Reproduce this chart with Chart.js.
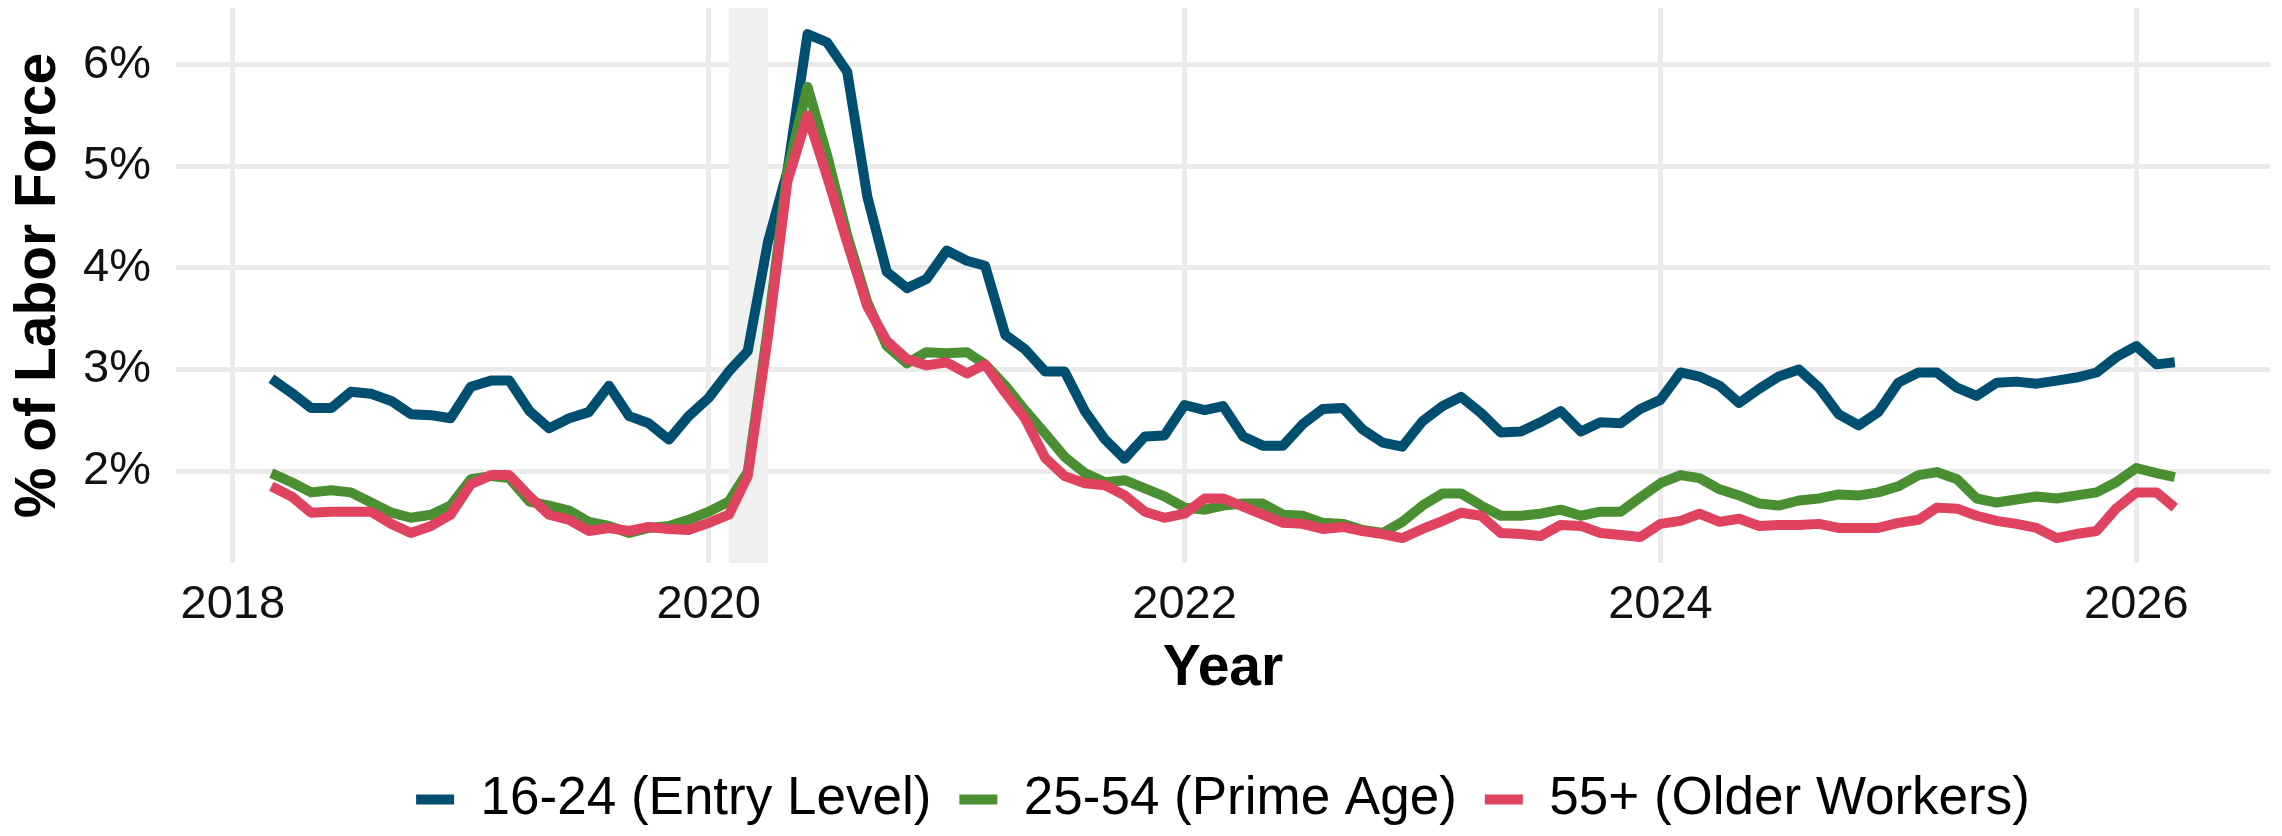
<!DOCTYPE html>
<html>
<head>
<meta charset="utf-8">
<script src="https://cdn.jsdelivr.net/npm/chart.js@4/dist/chart.umd.min.js"></script>
<style>
  html, body { margin: 0; padding: 0; background: #fff; }
  #wrap { width: 2282px; height: 836px; }
</style>
</head>
<body>
<div id="wrap"><canvas id="chart" width="2282" height="836"></canvas></div>
<script>
// --- data (monthly, % of labor force) ---
const months = [
  '2018-03','2018-04','2018-05','2018-06','2018-07','2018-08','2018-09','2018-10','2018-11','2018-12',
  '2019-01','2019-02','2019-03','2019-04','2019-05','2019-06','2019-07','2019-08','2019-09','2019-10','2019-11','2019-12',
  '2020-01','2020-02','2020-03','2020-04','2020-05','2020-06','2020-07','2020-08','2020-09','2020-10','2020-11','2020-12',
  '2021-01','2021-02','2021-03','2021-04','2021-05','2021-06','2021-07','2021-08','2021-09','2021-10','2021-11','2021-12',
  '2022-01','2022-02','2022-03','2022-04','2022-05','2022-06','2022-07','2022-08','2022-09','2022-10','2022-11','2022-12',
  '2023-01','2023-02','2023-03','2023-04','2023-05','2023-06','2023-07','2023-08','2023-09','2023-10','2023-11','2023-12',
  '2024-01','2024-02','2024-03','2024-04','2024-05','2024-06','2024-07','2024-08','2024-09','2024-10','2024-11','2024-12',
  '2025-01','2025-02','2025-03','2025-04','2025-05','2025-06','2025-07','2025-08','2025-09','2025-10','2025-11','2025-12',
  '2026-01','2026-02','2026-03'
];

const entryLevel = [
  2.91, 2.77, 2.62, 2.62, 2.78, 2.76, 2.69, 2.56, 2.55, 2.52,
  2.83, 2.89, 2.89, 2.59, 2.42, 2.52, 2.58, 2.84, 2.54, 2.47, 2.31, 2.54,
  2.72, 2.98, 3.18, 4.25, 4.95, 6.30, 6.22, 5.93, 4.70, 3.96, 3.80, 3.89,
  4.17, 4.07, 4.02, 3.34, 3.20, 2.98, 2.98, 2.59, 2.31, 2.12, 2.34, 2.35,
  2.65, 2.60, 2.64, 2.34, 2.25, 2.25, 2.46, 2.61, 2.62, 2.41, 2.28, 2.24,
  2.49, 2.64, 2.73, 2.57, 2.38, 2.39, 2.48, 2.59, 2.39, 2.48, 2.47, 2.61,
  2.70, 2.97, 2.93, 2.84, 2.67, 2.81, 2.93, 3.00, 2.82, 2.56, 2.45, 2.58,
  2.87, 2.97, 2.97, 2.82, 2.74, 2.87, 2.88, 2.86, 2.89, 2.92, 2.97, 3.12,
  3.23, 3.05, 3.07
];

const primeAge = [
  1.98, 1.89, 1.79, 1.81, 1.79, 1.69, 1.59, 1.54, 1.57, 1.66,
  1.92, 1.95, 1.93, 1.70, 1.66, 1.61, 1.50, 1.46, 1.39, 1.44, 1.46, 1.52,
  1.60, 1.70, 1.99, 3.40, 4.95, 5.78, 5.11, 4.32, 3.66, 3.23, 3.06, 3.17,
  3.16, 3.17, 3.05, 2.84, 2.60, 2.37, 2.14, 1.98, 1.89, 1.91, 1.83, 1.75,
  1.64, 1.62, 1.66, 1.68, 1.68, 1.57, 1.56, 1.49, 1.48, 1.42, 1.39, 1.50,
  1.66, 1.78, 1.78, 1.66, 1.56, 1.56, 1.58, 1.62, 1.56, 1.60, 1.60, 1.74,
  1.88, 1.96, 1.93, 1.82, 1.76, 1.68, 1.66, 1.71, 1.73, 1.77, 1.76, 1.79,
  1.85, 1.96, 1.99, 1.92, 1.73, 1.69, 1.72, 1.75, 1.73, 1.76, 1.79, 1.89,
  2.03, 1.98, 1.94
];

const olderWorkers = [
  1.85, 1.75, 1.59, 1.60, 1.60, 1.60, 1.48, 1.39, 1.46, 1.57,
  1.87, 1.96, 1.96, 1.75, 1.57, 1.52, 1.41, 1.44, 1.41, 1.45, 1.43, 1.42,
  1.49, 1.57, 1.95, 3.32, 4.85, 5.50, 4.90, 4.25, 3.62, 3.28, 3.10, 3.04,
  3.07, 2.96, 3.05, 2.77, 2.52, 2.13, 1.95, 1.88, 1.86, 1.76, 1.60, 1.54,
  1.58, 1.73, 1.73, 1.65, 1.57, 1.49, 1.48, 1.43, 1.45, 1.41, 1.38, 1.34,
  1.43, 1.51, 1.59, 1.56, 1.39, 1.38, 1.36, 1.47, 1.46, 1.39, 1.37, 1.35,
  1.48, 1.51, 1.58, 1.50, 1.53, 1.46, 1.47, 1.47, 1.48, 1.44, 1.44, 1.44,
  1.49, 1.52, 1.64, 1.63, 1.56, 1.51, 1.48, 1.44, 1.34, 1.38, 1.41, 1.63,
  1.79, 1.79, 1.64
];

const seriesLabels = ['16-24 (Entry Level)', '25-54 (Prime Age)', '55+ (Older Workers)'];
const seriesColors = ['#004f70', '#4a9032', '#df4360'];
const recession = ['2020-02', '2020-04'];
const xTicks = [2018, 2020, 2022, 2024, 2026];
const yTicks = [2, 3, 4, 5, 6];

// month string -> decimal year, so the linear axis spaces dates like a calendar
function toYear(m) {
  const [y, mo] = m.split('-').map(Number);
  const t0 = Date.UTC(y, 0, 1), t1 = Date.UTC(y + 1, 0, 1);
  return y + (Date.UTC(y, mo - 1, 1) - t0) / (t1 - t0);
}

function pts(values) {
  return months.map((m, i) => ({ x: toYear(m), y: values[i] }));
}

const FONT = "'Liberation Sans', Arial, Helvetica, sans-serif";

// grey band for the recession, behind the lines
const recessionShade = {
  id: 'recessionShade',
  beforeDatasetsDraw(chart) {
    const { ctx, chartArea, scales: { x } } = chart;
    const x0 = x.getPixelForValue(toYear(recession[0]));
    const x1 = x.getPixelForValue(toYear(recession[1]));
    ctx.save();
    ctx.fillStyle = '#f0f0f0';
    ctx.fillRect(x0, chartArea.top, x1 - x0, chartArea.bottom - chartArea.top);
    ctx.restore();
  }
};

// centre the legend under the plot panel, not the whole canvas
const legendUnderPanel = {
  id: 'legendUnderPanel',
  afterLayout(chart) {
    if (!chart.legend) return;
    chart.legend.left = chart.chartArea.left;
    chart.legend.right = chart.chartArea.right;
  }
};

// red drawn on top, green middle, blue underneath (legend reversed back)
const datasets = [
  { label: seriesLabels[2], data: pts(olderWorkers), borderColor: seriesColors[2], backgroundColor: seriesColors[2] },
  { label: seriesLabels[1], data: pts(primeAge), borderColor: seriesColors[1], backgroundColor: seriesColors[1] },
  { label: seriesLabels[0], data: pts(entryLevel), borderColor: seriesColors[0], backgroundColor: seriesColors[0] }
].map(d => Object.assign(d, {
  borderWidth: 10,
  pointRadius: 0,
  tension: 0,
  borderJoinStyle: 'round',
  borderCapStyle: 'butt',
  fill: false
}));

new Chart(document.getElementById('chart').getContext('2d'), {
  type: 'line',
  data: { datasets },
  plugins: [recessionShade, legendUnderPanel],
  options: {
    responsive: false,
    animation: false,
    devicePixelRatio: 1,
    layout: { padding: { top: 8, right: 12, bottom: 0, left: 0 } },
    plugins: {
      tooltip: { enabled: false },
      legend: {
        position: 'bottom',
        reverse: true,
        labels: {
          boxWidth: 38,
          boxHeight: 10,
          padding: 28,
          color: '#000',
          font: { family: FONT, size: 53 },
          generateLabels: chart =>
            Chart.defaults.plugins.legend.labels.generateLabels(chart)
              .map(it => Object.assign(it, { lineWidth: 0, fillStyle: it.strokeStyle }))
        }
      }
    },
    scales: {
      x: {
        type: 'linear',
        min: 2017.761,
        max: 2026.562,
        afterBuildTicks: s => { s.ticks = xTicks.map(v => ({ value: v })); },
        afterFit: s => { s.height = 182; s.paddingLeft = 0; s.paddingRight = 0; },
        grid: { color: '#ebebeb', lineWidth: 5, drawTicks: false },
        border: { display: false },
        ticks: {
          padding: 14,
          color: '#111',
          font: { family: FONT, size: 47 },
          callback: v => String(v)
        },
        title: {
          display: true,
          text: 'Year',
          color: '#000',
          font: { family: FONT, size: 57, weight: 'bold' },
          padding: { top: 0, bottom: 42 }
        }
      },
      y: {
        type: 'linear',
        min: 1.095,
        max: 6.557,
        afterBuildTicks: s => { s.ticks = yTicks.map(v => ({ value: v })); },
        afterFit: s => { s.width = 176; s.paddingTop = 0; s.paddingBottom = 0; },
        grid: { color: '#ebebeb', lineWidth: 5, drawTicks: false },
        border: { display: false },
        ticks: {
          padding: 25,
          color: '#111',
          font: { family: FONT, size: 47 },
          callback: v => v + '%'
        },
        title: {
          display: true,
          text: '% of Labor Force',
          color: '#000',
          font: { family: FONT, size: 57, weight: 'bold' },
          padding: { top: 5, bottom: 0 }
        }
      }
    }
  }
});
</script>
</body>
</html>
